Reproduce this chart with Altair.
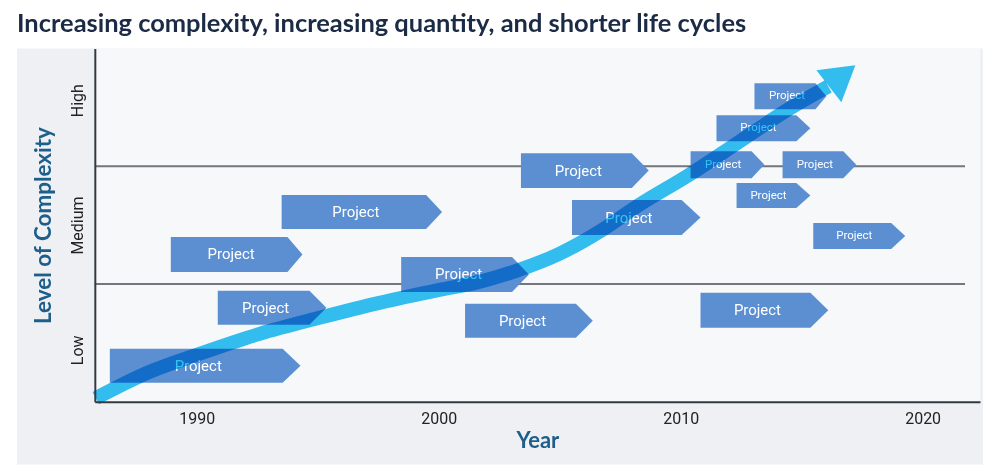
import altair as alt
import pandas as pd

# ---------------- data ----------------
proj_start = [1986.41, 1990.87, 1988.93, 1993.51, 1998.45, 2001.09, 2003.40, 2005.51,
              2010.82, 2015.48, 2013.05, 2011.48, 2010.41, 2014.21, 2012.31]
proj_end = [1993.55, 1994.66, 1993.75, 1999.48, 2003.03, 2005.67, 2007.98, 2010.04,
            2015.36, 2018.70, 2015.57, 2014.78, 2012.93, 2016.72, 2014.78]
proj_tip = [1994.29, 1995.36, 1994.37, 2000.14, 2003.73, 2006.37, 2008.68, 2010.82,
            2016.10, 2019.28, 2016.02, 2015.36, 2013.46, 2017.26, 2015.36]
proj_low = [0.161, 0.653, 1.102, 1.466, 0.932, 0.542, 1.814, 1.415,
            0.627, 1.297, 2.483, 2.212, 1.898, 1.898, 1.644]
proj_high = [0.449, 0.941, 1.398, 1.754, 1.229, 0.831, 2.110, 1.712,
             0.924, 1.517, 2.703, 2.432, 2.127, 2.127, 1.856]
proj_label = "Project"

# trend arrow centre line (year, complexity)
arrow_x = [1985.83, 1988.06, 1990.12, 1992.60, 1995.07, 1997.55, 2000.02, 2001.67,
           2003.32, 2004.97, 2006.62, 2008.27, 2010.33, 2012.39, 2014.45, 2016.10]
arrow_y = [0.030, 0.254, 0.407, 0.576, 0.712, 0.839, 0.949, 1.017,
           1.119, 1.254, 1.441, 1.669, 1.924, 2.203, 2.483, 2.678]
# arrow head (x, lower y, upper y)
head_x = [2015.61, 2016.64, 2017.22]
head_y = [2.814, 2.542, 2.856]
head_y2 = [2.814, 2.841, 2.856]

band_lines = [1, 2]
level_pos = [0.44, 1.5, 2.56]
level_names = ["Low", "Medium", "High"]
year_ticks = [1990, 2000, 2010, 2020]

X_DOM = [1985.79, 2022.37]
Y_DOM = [0, 3]
W, H = 887, 354

BOX = "#5b8fd2"
CYAN = "#34c2f3"
NARROW = "Liberation Sans Narrow, Roboto, sans-serif"

# ---------------- tables ----------------
rows = []
for i in range(len(proj_start)):
    lo, hi = proj_low[i], proj_high[i]
    mid = (lo + hi) / 2
    rows.append({"id": i, "x": proj_start[i], "y": lo, "y2": hi})
    rows.append({"id": i, "x": proj_end[i], "y": lo, "y2": hi})
    rows.append({"id": i, "x": proj_tip[i], "y": mid, "y2": mid})
boxes = pd.DataFrame(rows)

labels = pd.DataFrame({
    "x": [(s + e) / 2 for s, e in zip(proj_start, proj_end)],
    "y": [(l + h) / 2 for l, h in zip(proj_low, proj_high)],
    "fs": [15 if (h - l) > 0.27 else 11.5 for l, h in zip(proj_low, proj_high)],
    "t": [proj_label] * len(proj_start),
})

shaft = pd.DataFrame({"x": arrow_x, "y": arrow_y})
head = pd.DataFrame({"x": head_x, "y": head_y, "y2": head_y2})
rules = pd.DataFrame({"y": band_lines, "x": [X_DOM[0]] * 2, "x2": [2021.75] * 2})

label_expr = " : ".join(
    f"datum.value == {p} ? '{n}'" for p, n in zip(level_pos, level_names)
) + " : ''"

xscale = alt.Scale(domain=X_DOM, nice=False, zero=False)
yscale = alt.Scale(domain=Y_DOM, nice=False, zero=False)

x_axis = alt.Axis(values=year_ticks, format="d", ticks=False, grid=False,
                  domainColor="#333a44", domainWidth=2,
                  labelFont=NARROW, labelFontSize=16, labelColor="#222222",
                  labelPadding=9, title="Year", titleFont="Lato",
                  titleFontSize=22, titleFontWeight="bold", titleColor="#1d5f8a",
                  titlePadding=4, zindex=1)
y_axis = alt.Axis(values=level_pos, labelExpr=label_expr, ticks=False, grid=False,
                  domainColor="#333a44", domainWidth=2, labelAngle=-90,
                  labelAlign="center", labelBaseline="bottom",
                  labelFont=NARROW, labelFontSize=16, labelColor="#222222",
                  labelPadding=9, title="Level of Complexity", titleFont="Lato",
                  titleFontSize=22.5, titleFontWeight="bold", titleColor="#1d5f8a",
                  titlePadding=14, zindex=1)

# decorative panels
panel = alt.Chart(pd.DataFrame({"a": [0]})).mark_rect(color="#eef0f3").encode(
    x=alt.value(-78), x2=alt.value(W + 3), y=alt.value(0), y2=alt.value(H + 63))
plotbg = alt.Chart(pd.DataFrame({"a": [0]})).mark_rect(color="#f7f8fa").encode(
    x=alt.value(0), x2=alt.value(W), y=alt.value(0), y2=alt.value(H))

grid = alt.Chart(rules).mark_rule(color="#74767c", strokeWidth=2).encode(
    x=alt.X("x:Q", scale=xscale, axis=x_axis),
    x2="x2:Q",
    y=alt.Y("y:Q", scale=yscale, axis=y_axis),
)

box_layer = alt.Chart(boxes).mark_area(color=BOX, opacity=1, interpolate="linear").encode(
    x=alt.X("x:Q", scale=xscale),
    y=alt.Y("y:Q", scale=yscale, stack=None),
    y2="y2:Q",
    detail="id:N",
)

text_layer = alt.Chart(labels).mark_text(color="white", font=NARROW, baseline="middle",
                                          align="center", dx=2).encode(
    x=alt.X("x:Q", scale=xscale),
    y=alt.Y("y:Q", scale=yscale),
    text="t:N",
    size=alt.Size("fs:Q", scale=None),
)

shaft_layer = alt.Chart(shaft).mark_line(color=CYAN, strokeWidth=14, interpolate="monotone",
                                          strokeCap="butt", blend="multiply").encode(
    x=alt.X("x:Q", scale=xscale),
    y=alt.Y("y:Q", scale=yscale),
)

head_layer = alt.Chart(head).mark_area(color=CYAN, opacity=1, blend="multiply").encode(
    x=alt.X("x:Q", scale=xscale),
    y=alt.Y("y:Q", scale=yscale, stack=None),
    y2="y2:Q",
)

chart = alt.layer(panel, plotbg, grid, box_layer, text_layer, shaft_layer, head_layer).properties(
    width=W, height=H,
    title=alt.TitleParams("Increasing complexity, increasing quantity, and shorter life cycles",
                          anchor="start", frame="group", dx=-78, fontSize=25.5,
                          font="Lato", fontWeight="bold", color="#1b2b45", offset=11),
    padding={"left": 9, "top": 3, "right": 0, "bottom": 0},
    background="white",
).configure_view(stroke=None, fill=None)

chart.save("out.html", embed_options={"renderer": "svg", "actions": False})
